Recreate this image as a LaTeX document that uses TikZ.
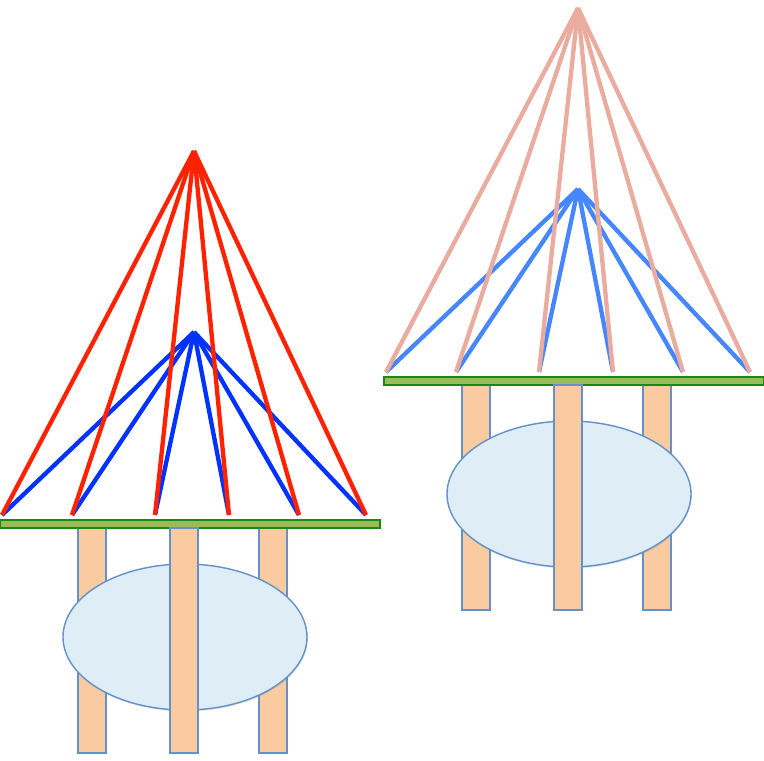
\documentclass[tikz,border=0pt]{standalone}
\usepackage{xcolor}
\usepackage{tikz}
\usetikzlibrary{calc, shadows}
\definecolor{cablered}{RGB}{255, 34, 0}
\definecolor{cableblue}{RGB}{0, 51, 255}
\definecolor{cablepink}{RGB}{234, 172, 158}
\definecolor{cablesky}{RGB}{70, 135, 255}
\definecolor{deckgreen}{RGB}{155, 187, 89}
\definecolor{darkgreen}{RGB}{20, 140, 20}
\definecolor{pillarorange}{RGB}{250, 203, 160}
\definecolor{edgeblue}{RGB}{100, 145, 200}
\definecolor{poolblue}{RGB}{223, 238, 246}

\tikzset{
    cable/.style={line width=3.7pt},
    deck/.style={fill=deckgreen, draw=darkgreen, line width=1.2pt},
    pillar/.style={fill=pillarorange, draw=edgeblue, line width=1pt,
                   drop shadow={shadow xshift=0.6pt, shadow yshift=-1.2pt, opacity=0.25}},
    pool/.style={fill=poolblue, draw=edgeblue, line width=1.2pt,
                 drop shadow={shadow xshift=0.6pt, shadow yshift=-1.2pt, opacity=0.25}},
}

% #1,#2 = shift of the tower, #3 = long cables, #4 = short cables, #5 = name prefix
\newcommand{\drawtower}[5]{%
    \begin{scope}[shift={(#1,#2)}]
        \coordinate (#5top) at (194,151);
        \coordinate (#5mid) at (194,332);
        \foreach \fx [count=\i] in {2,72,155,229,299,366} {
            \coordinate (#5foot\i) at (\fx,515);
        }
        \foreach \i in {1,...,6} {
            \draw[cable, #4] (#5mid) -- (#5foot\i);
        }
        \foreach \i in {1,...,6} {
            \draw[cable, #3] (#5top) -- (#5foot\i);
        }
        % outer pillars, deck, pool, middle pillar
        \draw[pillar] (78,528) rectangle (106,753);
        \draw[pillar] (259,528) rectangle (287,753);
        \draw[deck] (0,520) rectangle (380,528);
        \draw[pool] (185,637) ellipse [x radius=122, y radius=73];
        \draw[pillar] (170,528) rectangle (198,753);
    \end{scope}
}

\begin{document}
\begin{tikzpicture}[x=0.03cm, y=-0.03cm]
    \useasboundingbox (0,0) rectangle (764,760);
    \drawtower{384}{-143}{cablepink}{cablesky}{right}
    \drawtower{0}{0}{cablered}{cableblue}{left}
\end{tikzpicture}
\end{document}
